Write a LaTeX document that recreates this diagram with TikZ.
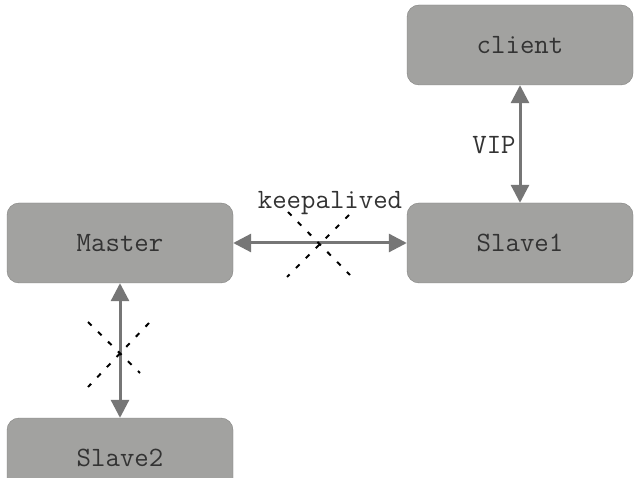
\documentclass[tikz,border=0pt]{standalone}
\usetikzlibrary{arrows.meta,positioning}
\definecolor{boxgray}{RGB}{162,162,160}
\definecolor{linegray}{RGB}{118,118,118}

\begin{document}
\begin{tikzpicture}[x=1pt,y=-1pt,
  box/.style={draw=boxgray!80!black, fill=boxgray, rounded corners=12pt,
    minimum width=226pt, minimum height=80pt,
    font=\ttfamily\fontsize{28}{32}\selectfont, text=black!80},
  lbl/.style={font=\ttfamily\fontsize{28}{32}\selectfont, text=black!80},
  link/.style={linegray, line width=3pt,
    {Triangle[length=18pt,width=18pt]}-{Triangle[length=18pt,width=18pt]}},
  cross/.style={dash pattern=on 5pt off 9pt, line width=2pt}]
  \clip (0,0) rectangle (640,478);
  \fill[white] (0,0) rectangle (640,478);

  % 框
  \node[box] (client) at (520,45) {client};
  \node[box] (slave1) at (520,243) {Slave1};
  \node[box] (master) at (120,243) {Master};
  \node[box] (slave2) at (120,458) {Slave2};

  % 连线
  \draw[link] (client) -- (slave1);
  \draw[link] (master) -- (slave1);
  \draw[link] (master) -- (slave2);

  % 标签
  \node[lbl] (vip) at (494,145) {VIP};
  \node[lbl] (keep) at (330,203) {keepalived};

  % 断开标记
  \draw[cross] (288,212) -- (350,275);
  \draw[cross] (349,215) -- (287,277);
  \draw[cross] (88,322) -- (140,373);
  \draw[cross] (149,323) -- (88,387);
\end{tikzpicture}
\end{document}
